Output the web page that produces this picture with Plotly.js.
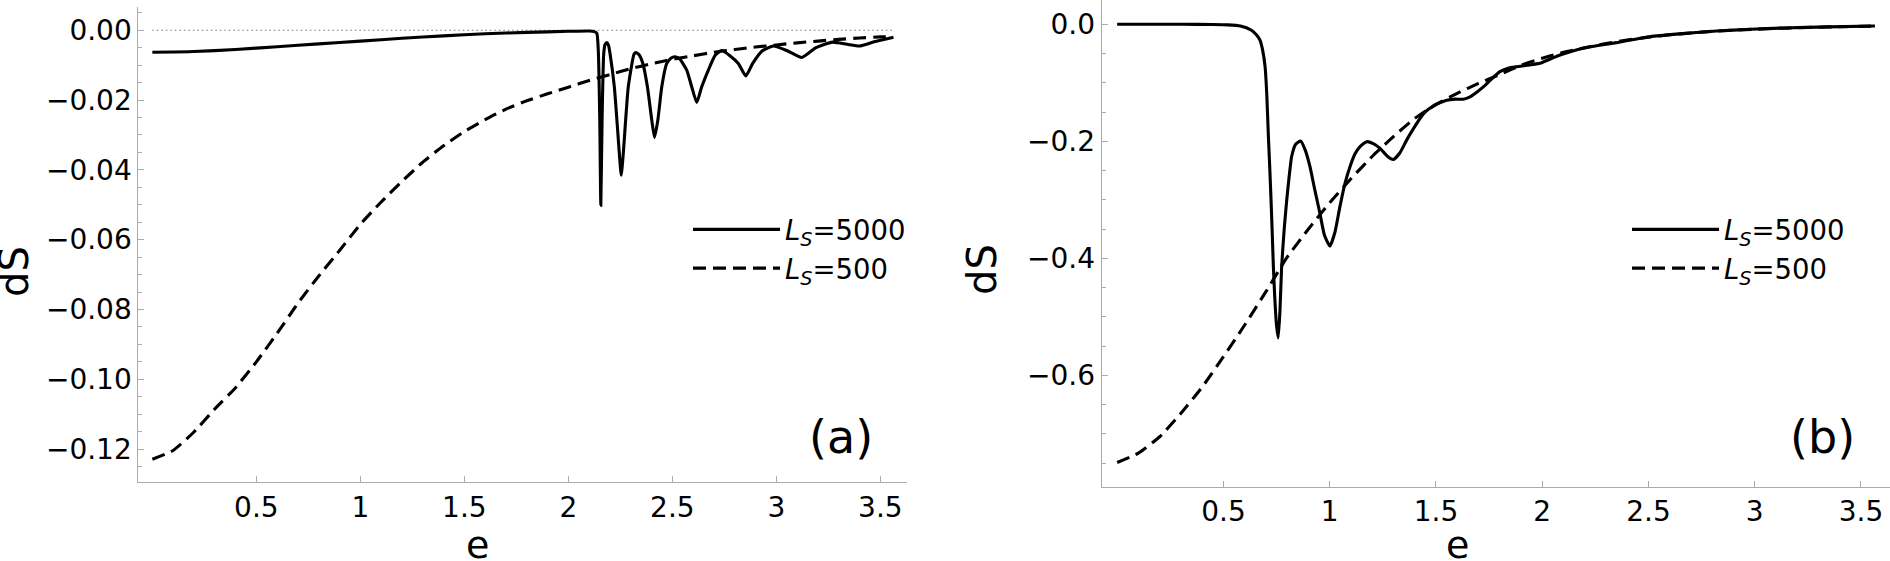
<!DOCTYPE html>
<html>
<head>
<meta charset="utf-8">
<script src="https://cdn.plot.ly/plotly-3.0.1.min.js"></script>
<style>html,body{margin:0;padding:0;background:#fff;}#chart{width:1890px;height:561px;}</style>
</head>
<body>
<div id="chart"></div>
<script>
// ---------- Panel (a) ----------
const xA_solid = [0, 0.2, 0.4, 0.6, 0.8, 1.0, 1.2, 1.4, 1.6, 1.8, 2.0, 2.1, 2.125, 2.137, 2.144, 2.151, 2.156, 2.162, 2.170, 2.177, 2.185, 2.193, 2.2, 2.221, 2.245, 2.254, 2.264, 2.288, 2.316, 2.325, 2.34, 2.358, 2.380, 2.401, 2.414, 2.430, 2.449, 2.473, 2.493, 2.513, 2.535, 2.569, 2.593, 2.617, 2.641, 2.673, 2.705, 2.737, 2.775, 2.817, 2.853, 2.886, 2.93, 2.986, 3.05, 3.122, 3.19, 3.27, 3.34, 3.40, 3.47, 3.563];
const yA_solid = [-0.0063, -0.0061, -0.0055, -0.0047, -0.0039, -0.0031, -0.0023, -0.0016, -0.0010, -0.0006, -0.0003, -0.0002, -0.0004, -0.0009, -0.0060, -0.0257, -0.0501, -0.0257, -0.0066, -0.0040, -0.0035, -0.0043, -0.0066, -0.0162, -0.0353, -0.0415, -0.0353, -0.0162, -0.0068, -0.0064, -0.0070, -0.0095, -0.0162, -0.0258, -0.0307, -0.0258, -0.0162, -0.0095, -0.0080, -0.0076, -0.0082, -0.0114, -0.0162, -0.0207, -0.0162, -0.0114, -0.0072, -0.0058, -0.0072, -0.0095, -0.0131, -0.0095, -0.0060, -0.0045, -0.0058, -0.0078, -0.0050, -0.0034, -0.0040, -0.0045, -0.0033, -0.0020];
const xA_dash = [0, 0.1, 0.2, 0.3, 0.4, 0.5, 0.6, 0.7, 0.8, 0.9, 1.0, 1.1, 1.2, 1.3, 1.4, 1.5, 1.6, 1.7, 1.8, 1.9, 2.0, 2.1, 2.2, 2.3, 2.4, 2.5, 2.6, 2.7, 2.8, 2.9, 3.0, 3.1, 3.2, 3.3, 3.4, 3.5, 3.56];
const yA_dash = [-0.1229, -0.1204, -0.1151, -0.1085, -0.1024, -0.0950, -0.0868, -0.0782, -0.0704, -0.0631, -0.0556, -0.0492, -0.0433, -0.0378, -0.0331, -0.0290, -0.0256, -0.0226, -0.0202, -0.0182, -0.0163, -0.0144, -0.0127, -0.0110, -0.0096, -0.0083, -0.0073, -0.0063, -0.0055, -0.0048, -0.0042, -0.0036, -0.0031, -0.0026, -0.0022, -0.0019, -0.0018];
const xA_zero = [0, 3.56];
const yA_zero = [0, 0];

// ---------- Panel (b) ----------
const xB_solid = [0, 0.3, 0.45, 0.52, 0.58, 0.63, 0.655, 0.672, 0.685, 0.696, 0.704, 0.711, 0.718, 0.724, 0.730, 0.735, 0.742, 0.750, 0.758, 0.766, 0.774, 0.786, 0.798, 0.810, 0.821, 0.840, 0.863, 0.885, 0.907, 0.930, 0.954, 0.975, 1.001, 1.025, 1.048, 1.072, 1.096, 1.120, 1.143, 1.174, 1.205, 1.237, 1.27, 1.30, 1.33, 1.362, 1.395, 1.425, 1.455, 1.488, 1.52, 1.551, 1.59, 1.629, 1.66, 1.692, 1.723, 1.76, 1.801, 1.84, 1.88, 1.93, 1.99, 2.04, 2.084, 2.14, 2.193, 2.27, 2.35, 2.43, 2.507, 2.66, 2.821, 2.98, 3.135, 3.35, 3.566];
const yB_solid = [0, 0, -0.0005, -0.001, -0.003, -0.0097, -0.018, -0.027, -0.045, -0.0725, -0.12, -0.186, -0.245, -0.300, -0.36, -0.414, -0.47, -0.515, -0.536, -0.49, -0.414, -0.35, -0.300, -0.258, -0.226, -0.205, -0.1995, -0.215, -0.243, -0.283, -0.323, -0.360, -0.379, -0.355, -0.312, -0.272, -0.243, -0.221, -0.209, -0.2007, -0.204, -0.212, -0.225, -0.231, -0.220, -0.198, -0.178, -0.161, -0.148, -0.140, -0.134, -0.130, -0.128, -0.128, -0.124, -0.116, -0.107, -0.094, -0.081, -0.075, -0.0725, -0.070, -0.0667, -0.059, -0.0525, -0.046, -0.041, -0.036, -0.0314, -0.026, -0.0212, -0.016, -0.0115, -0.0085, -0.0063, -0.0044, -0.0029];
const xB_dash = [0, 0.1, 0.2, 0.3, 0.4, 0.5, 0.6, 0.7, 0.8, 0.9, 1.0, 1.1, 1.2, 1.3, 1.4, 1.5, 1.6, 1.7, 1.8, 1.9, 2.0, 2.1, 2.2, 2.3, 2.4, 2.5, 2.6, 2.7, 2.8, 2.9, 3.0, 3.1, 3.2, 3.3, 3.4, 3.5, 3.56];
const yB_dash = [-0.749, -0.733, -0.705, -0.665, -0.620, -0.568, -0.514, -0.457, -0.398, -0.350, -0.305, -0.264, -0.226, -0.192, -0.161, -0.137, -0.118, -0.101, -0.086, -0.070, -0.058, -0.048, -0.040, -0.033, -0.027, -0.022, -0.018, -0.015, -0.012, -0.010, -0.0085, -0.007, -0.006, -0.005, -0.004, -0.0035, -0.003];

// ---------- Labels ----------
const xTickVals = [0.5, 1, 1.5, 2, 2.5, 3, 3.5];
const seriesNames = ['<i>L</i><sub><i>S</i></sub>=5000', '<i>L</i><sub><i>S</i></sub>=500'];
const panelLabels = ['(a)', '(b)'];
const xTitle = 'e';
const yTitle = 'dS';

const FONT = 'DejaVu Sans, sans-serif';
const AX = '#ababab';
const solidLine = {color: '#000', width: 3.1, shape: 'spline', smoothing: 0.5};
const dashLine = {color: '#000', width: 3.1, dash: '13px,7px', shape: 'spline', smoothing: 0.5};

const traces = [
  {x: xA_zero, y: yA_zero, xaxis: 'x', yaxis: 'y', mode: 'lines', showlegend: false, hoverinfo: 'skip',
   line: {color: '#777', width: 1.2, dash: '1.5px,3px'}},
  {x: xA_solid, y: yA_solid, xaxis: 'x', yaxis: 'y', mode: 'lines', name: seriesNames[0], legend: 'legend', line: solidLine},
  {x: xA_dash, y: yA_dash, xaxis: 'x', yaxis: 'y', mode: 'lines', name: seriesNames[1], legend: 'legend', line: dashLine},
  {x: xB_solid, y: yB_solid, xaxis: 'x2', yaxis: 'y2', mode: 'lines', name: seriesNames[0], legend: 'legend2', line: solidLine},
  {x: xB_dash, y: yB_dash, xaxis: 'x2', yaxis: 'y2', mode: 'lines', name: seriesNames[1], legend: 'legend2', line: dashLine}
];

function xaxisCfg(domain, range, anchor) {
  return {domain: domain, range: range, anchor: anchor, showline: true, linecolor: AX, linewidth: 1,
    ticks: 'inside', ticklen: 6, tickcolor: AX, tickwidth: 1, tickmode: 'array', tickvals: xTickVals,
    showgrid: false, zeroline: false, tickfont: {family: FONT, size: 28, color: '#000'}, fixedrange: true};
}
function yaxisCfg(domain, range, anchor, dtick, fmt, minorDtick) {
  return {domain: domain, range: range, anchor: anchor, showline: true, linecolor: AX, linewidth: 1,
    ticks: 'inside', ticklen: 6, tickcolor: AX, tickwidth: 1, tick0: 0, dtick: dtick, tickformat: fmt,
    minor: {ticks: 'inside', ticklen: 4, tickcolor: AX, tick0: 0, dtick: minorDtick, showgrid: false},
    showgrid: false, zeroline: false, tickfont: {family: FONT, size: 28, color: '#000'}, fixedrange: true};
}

const legendCfg = (x, y) => ({x: x, y: y, xanchor: 'left', yanchor: 'top', xref: 'paper', yref: 'paper',
  bgcolor: 'rgba(0,0,0,0)', borderwidth: 0, font: {family: FONT, size: 27.5, color: '#000'}, tracegroupgap: 0, itemwidth: 87});

const layout = {
  width: 1890, height: 561,
  margin: {l: 0, r: 0, t: 0, b: 0},
  paper_bgcolor: '#fff', plot_bgcolor: '#fff',
  font: {family: FONT, color: '#000'},
  showlegend: true,
  xaxis: xaxisCfg([0.0732, 0.4801], [-0.0673, 3.6298], 'y'),
  yaxis: yaxisCfg([0.1408, 0.9881], [-0.12943, 0.00676], 'x', 0.02, '.2f', 0.005),
  xaxis2: xaxisCfg([0.5829, 1.0], [-0.0729, 3.6367], 'y2'),
  yaxis2: yaxisCfg([0.1324, 1.0], [-0.7904, 0.0415], 'x2', 0.2, '.1f', 0.05),
  legend: legendCfg(688 / 1890, 1 - 205 / 561),
  legend2: legendCfg(1627 / 1890, 1 - 205 / 561),
  annotations: [
    {text: panelLabels[0], x: 841 / 1890, y: 1 - 437 / 561, xref: 'paper', yref: 'paper', xanchor: 'center', yanchor: 'middle', showarrow: false, font: {family: FONT, size: 46, color: '#000'}},
    {text: panelLabels[1], x: 1822 / 1890, y: 1 - 437 / 561, xref: 'paper', yref: 'paper', xanchor: 'center', yanchor: 'middle', showarrow: false, font: {family: FONT, size: 46, color: '#000'}},
    {text: xTitle, x: 477 / 1890, y: 0, xref: 'paper', yref: 'paper', xanchor: 'center', yanchor: 'bottom', yshift: -7, borderpad: 0, showarrow: false, font: {family: FONT, size: 38, color: '#000'}},
    {text: xTitle, x: 1457 / 1890, y: 0, xref: 'paper', yref: 'paper', xanchor: 'center', yanchor: 'bottom', yshift: -7, borderpad: 0, showarrow: false, font: {family: FONT, size: 38, color: '#000'}},
    {text: yTitle, x: 16 / 1890, y: 1 - 272 / 561, xref: 'paper', yref: 'paper', xanchor: 'center', yanchor: 'middle', xshift: -2, textangle: -90, borderpad: 0, showarrow: false, font: {family: FONT, size: 40, color: '#000'}},
    {text: yTitle, x: 998 / 1890, y: 1 - 270 / 561, xref: 'paper', yref: 'paper', xanchor: 'center', yanchor: 'middle', xshift: -16, textangle: -90, borderpad: 0, showarrow: false, font: {family: FONT, size: 40, color: '#000'}}
  ]
};

Plotly.newPlot('chart', traces, layout, {staticPlot: true, displayModeBar: false});
</script>
</body>
</html>
